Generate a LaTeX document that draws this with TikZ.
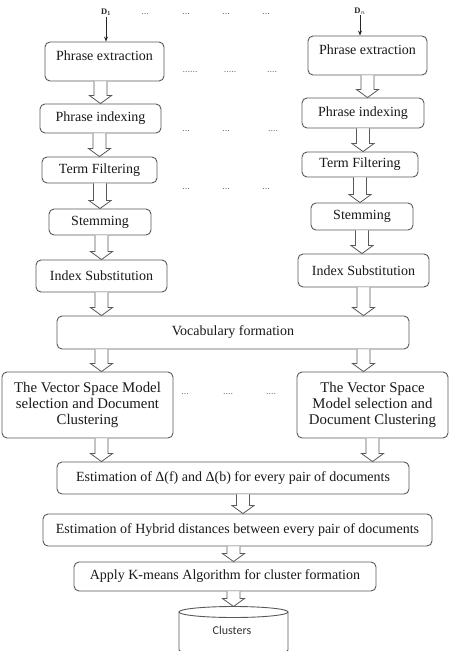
\documentclass[tikz,border=0pt]{standalone}
\usepackage{fontspec}
\setmainfont{Liberation Serif}
\newfontfamily\clfont{Carlito}
\usetikzlibrary{calc,arrows.meta}
\begin{document}
\begin{tikzpicture}[x=1pt,y=-1pt,
  box/.style={draw=black!65, line width=0.9pt, rounded corners=5pt, fill=white, inner sep=0pt, align=center, text=black!90, font=\fontsize{14}{15}\selectfont},
  bigbox/.style={box, font=\fontsize{14.8}{15.6}\selectfont},
  harrow/.style={draw=black!65, line width=0.8pt, fill=white, to path={let \p1=(\tikztostart), \p2=(\tikztotarget) in (\x1-6.5pt,\y1) -- (\x1-6.5pt,\y2+8pt) -- (\x1-11pt,\y2+8pt) -- (\x1,\y2) -- (\x1+11pt,\y2+8pt) -- (\x1+6.5pt,\y2+8pt) -- (\x1+6.5pt,\y1)}},
  dots/.style={text=black!55, font=\fontsize{10}{10}\selectfont, inner sep=0pt},
  dlabel/.style={font=\fontsize{8.5}{9}\selectfont\bfseries, inner sep=1pt, text=black!85},
  thinarrow/.style={-{Stealth[length=5pt,width=4pt]}, line width=0.8pt, draw=black!85}
]
\useasboundingbox (0,0) rectangle (450,651);

% left column
\node[box, minimum width=119pt, minimum height=39pt, text depth=11pt] (pe1) at (104.5,61.5) {Phrase extraction};
\node[box, minimum width=121pt, minimum height=29pt] (pi1) at (100.5,118.5) {Phrase indexing};
\node[box, minimum width=115pt, minimum height=26pt] (tf1) at (99.5,170) {Term Filtering};
\node[box, minimum width=102pt, minimum height=26pt] (st1) at (100,222) {Stemming};
\node[box, minimum width=131pt, minimum height=32pt] (is1) at (101.5,276) {Index Substitution};

% right column
\node[box, minimum width=119pt, minimum height=39pt, text depth=11pt] (pe2) at (367.5,55.5) {Phrase extraction};
\node[box, minimum width=122pt, minimum height=30pt] (pi2) at (363,113) {Phrase indexing};
\node[box, minimum width=116pt, minimum height=25pt] (tf2) at (360,164.5) {Term Filtering};
\node[box, minimum width=102pt, minimum height=27pt] (st2) at (362,216.5) {Stemming};
\node[box, minimum width=131pt, minimum height=33pt] (is2) at (363.5,270.5) {Index Substitution};

% shared
\node[box, minimum width=352pt, minimum height=33pt] (voc) at (233,332.5) {Vocabulary formation};
\node[bigbox, minimum width=171pt, minimum height=66pt] (vsm1) at (87.5,405) {The Vector Space Model\\selection and Document\\Clustering};
\node[bigbox, minimum width=151pt, minimum height=66pt] (vsm2) at (372.5,405) {The Vector Space\\Model selection and\\Document Clustering};
\node[box, minimum width=352pt, minimum height=32pt] (est) at (233,478) {Estimation of Δ(f) and Δ(b) for every pair of documents};
\node[box, minimum width=389pt, minimum height=32pt] (hyb) at (237.5,530) {Estimation of Hybrid distances between every pair of documents};
\node[box, minimum width=302pt, minimum height=29pt] (km) at (225,576.5) {Apply K-means Algorithm for cluster formation};

% clusters cylinder
\draw[draw=black!65, line width=0.9pt, fill=white] (179,612) -- (179,650) arc[start angle=180, end angle=360, x radius=54.5, y radius=-5.5] -- (288,612);
\draw[draw=black!65, line width=0.9pt, fill=white] (233.5,612) ellipse [x radius=54.5, y radius=5.5];
\coordinate (cltop) at (233.5,606.5);
\node[font=\clfont\fontsize{12}{13}\selectfont, text=black!80] (cl) at (232,630) {Clusters};

% document inputs
\node[dlabel] (d1) at (106,12) {D$_{\mathbf 1}$};
\node[dlabel] (dn) at (360,11) {D$_n$};
\draw[thinarrow] (d1.south) -- (d1.south |- pe1.north);
\draw[thinarrow] (dn.south) -- (dn.south |- pe2.north);

% hollow arrows, left column
\draw[harrow] (pi1.north |- pe1.south) to (pi1.north);
\draw[harrow] (tf1.north |- pi1.south) to (tf1.north);
\draw[harrow] (st1.north |- tf1.south) to (st1.north);
\draw[harrow] (is1.north |- st1.south) to (is1.north);
\draw[harrow] (is1.south) to (is1.south |- voc.north);
% right column
\draw[harrow] (pe2.south) to (pe2.south |- pi2.north);
\draw[harrow] (pi2.south) to (pi2.south |- tf2.north);
\draw[harrow] (tf2.south) to (tf2.south |- st2.north);
\draw[harrow] (st2.south) to (st2.south |- is2.north);
\draw[harrow] (is2.south) to (is2.south |- voc.north);
% vocabulary to models
\draw[harrow] (voc.south -| is1.south) to (vsm1.north -| is1.south);
\draw[harrow] (voc.south -| is2.south) to (vsm2.north -| is2.south);
\draw[harrow] (vsm1.south -| is1.south) to (est.north -| is1.south);
\draw[harrow] (vsm2.south) to (vsm2.south |- est.north);
\draw[harrow] ([xshift=10pt]est.south) to ([xshift=10pt]est.south |- hyb.north);
\draw[harrow] (hyb.south -| cltop) to (km.north -| cltop);
\draw[harrow] (km.south -| cltop) to (cltop);

% ellipsis marks
\node[dots] (r1a) at (145,14) {...};
\node[dots] (r1b) at (186,14) {...};
\node[dots] (r1c) at (226,14) {...};
\node[dots] (r1d) at (266,14) {...};
\node[dots] (r2a) at (190,72) {......};
\node[dots] (r2b) at (230,72) {.....};
\node[dots] (r2c) at (272,72) {....};
\node[dots] (r3a) at (186,131) {...};
\node[dots] (r3b) at (226,131) {...};
\node[dots] (r3c) at (273,131) {....};
\node[dots] (r4a) at (186,189) {...};
\node[dots] (r4b) at (226,189) {...};
\node[dots] (r4c) at (266,189) {...};
\node[dots] (r5a) at (185,394) {...};
\node[dots] (r5b) at (228,394) {....};
\node[dots] (r5c) at (271,394) {....};
\end{tikzpicture}
\end{document}
